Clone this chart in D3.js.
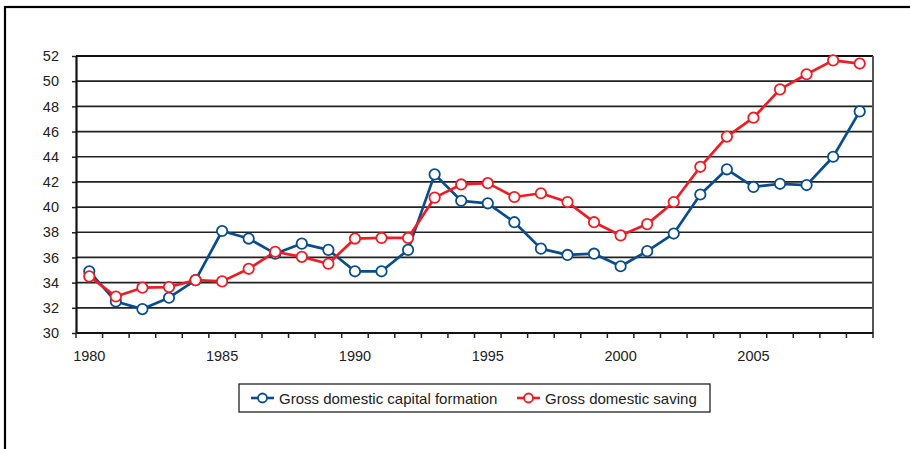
<!DOCTYPE html>
<html>
<head>
<meta charset="utf-8">
<script src="https://cdn.jsdelivr.net/npm/d3@7"></script>
<style>
  body { margin: 0; background: #fff; }
  text { font-family: "Liberation Sans", Arial, sans-serif; }
</style>
</head>
<body>
<svg id="chart" width="910" height="449"></svg>
<script>
var years = d3.range(1980, 2010);
var yTicks = [30, 32, 34, 36, 38, 40, 42, 44, 46, 48, 50, 52];
var xLabels = [1980, 1985, 1990, 1995, 2000, 2005];

var capitalFormation = [34.9, 32.5, 31.9, 32.8, 34.2, 38.1, 37.5, 36.3, 37.1, 36.6,
  34.9, 34.9, 36.6, 42.6, 40.5, 40.3, 38.8, 36.7, 36.2, 36.3,
  35.3, 36.5, 37.9, 41.0, 43.0, 41.6, 41.85, 41.75, 44.0, 47.6];
var saving = [34.5, 32.9, 33.6, 33.65, 34.2, 34.1, 35.1, 36.45, 36.05, 35.5,
  37.5, 37.55, 37.55, 40.75, 41.8, 41.9, 40.8, 41.1, 40.4, 38.8,
  37.75, 38.65, 40.4, 43.2, 45.6, 47.1, 49.35, 50.55, 51.65, 51.4];

var series = [
  {name: 'Gross domestic capital formation', values: capitalFormation, color: '#0b4d8c'},
  {name: 'Gross domestic saving', values: saving, color: '#ee1d25'}
];

var svg = d3.select('#chart'),
    margin = {top: 56, right: 37, bottom: 116, left: 76},
    width = +svg.attr('width') - margin.left - margin.right,
    height = +svg.attr('height') - margin.top - margin.bottom;

// outer frame (only left and top edges show)
svg.append('rect')
  .attr('x', 5).attr('y', 7)
  .attr('width', 920).attr('height', 460)
  .attr('fill', 'none')
  .attr('stroke', '#000')
  .attr('stroke-width', 2.2);

var g = svg.append('g')
  .attr('transform', `translate(${margin.left}, ${margin.top})`);

var x = d3.scaleBand().domain(years).range([0, width]),
    y = d3.scaleLinear().domain([30, 52]).range([height, 0]);

// gridlines
g.selectAll('.grid')
  .data(yTicks.slice(1))
  .enter().append('line')
  .attr('x1', 0).attr('x2', width)
  .attr('y1', d => y(d)).attr('y2', d => y(d))
  .attr('stroke', d => d === 52 ? '#111' : '#222')
  .attr('stroke-width', d => d === 52 ? 2.2 : 1.7);

// right edge
g.append('line')
  .attr('x1', width).attr('x2', width)
  .attr('y1', 0).attr('y2', height)
  .attr('stroke', '#555')
  .attr('stroke-width', 2);

// y axis
var yAxis = g.append('g')
  .call(d3.axisLeft(y).tickValues(yTicks).tickSize(4).tickSizeOuter(0).tickPadding(13));
yAxis.select('.domain').attr('stroke', '#111').attr('stroke-width', 2.2);
yAxis.selectAll('.tick line').attr('stroke', '#222').attr('stroke-width', 1.5);
yAxis.selectAll('.tick text')
  .attr('fill', '#222')
  .style('font-size', '14.5px')
  .style('font-family', '"Liberation Sans", Arial, sans-serif');

// x axis: ticks on band boundaries, labels at band centres
var xb = g.append('g').attr('transform', `translate(0, ${height})`);
xb.append('line')
  .attr('x1', 0).attr('x2', width)
  .attr('stroke', '#111').attr('stroke-width', 2.2);
xb.selectAll('.xt')
  .data(years.concat([2010]))
  .enter().append('line')
  .attr('x1', d => d === 2010 ? width : x(d))
  .attr('x2', d => d === 2010 ? width : x(d))
  .attr('y1', 0).attr('y2', 5)
  .attr('stroke', '#222').attr('stroke-width', 1.5);
xb.selectAll('.xl')
  .data(xLabels)
  .enter().append('text')
  .attr('x', d => x(d) + x.bandwidth() / 2)
  .attr('y', 28)
  .attr('text-anchor', 'middle')
  .attr('fill', '#222')
  .style('font-size', '14.5px')
  .text(d => d);

var line = d3.line()
  .x((d, i) => x(years[i]) + x.bandwidth() / 2)
  .y(d => y(d));

series.forEach(function(s) {
  g.append('path')
    .datum(s.values)
    .attr('fill', 'none')
    .attr('stroke', s.color)
    .attr('stroke-width', 2.7)
    .attr('stroke-linejoin', 'round')
    .attr('d', line);
});

series.forEach(function(s) {
  g.selectAll(null)
    .data(s.values)
    .enter().append('circle')
    .attr('cx', (d, i) => x(years[i]) + x.bandwidth() / 2)
    .attr('cy', d => y(d))
    .attr('r', 5.2)
    .attr('fill', '#fff')
    .attr('stroke', s.color)
    .attr('stroke-width', 1.8);
});

// legend
var lg = svg.append('g');
lg.append('rect')
  .attr('x', 239).attr('y', 384)
  .attr('width', 471).attr('height', 28)
  .attr('fill', '#fff')
  .attr('stroke', '#222')
  .attr('stroke-width', 1.3);

var legendX = [251, 517];
series.forEach(function(s, i) {
  var item = lg.append('g').attr('transform', `translate(${legendX[i]}, 398)`);
  item.append('line')
    .attr('x1', 0).attr('x2', 23)
    .attr('stroke', s.color).attr('stroke-width', 2.6);
  item.append('circle')
    .attr('cx', 11.5).attr('r', 4.5)
    .attr('fill', '#fff').attr('stroke', s.color).attr('stroke-width', 1.8);
  item.append('text')
    .attr('x', 28).attr('y', 6)
    .attr('fill', '#222')
    .style('font-size', '15px')
    .text(s.name);
});
</script>
</body>
</html>
